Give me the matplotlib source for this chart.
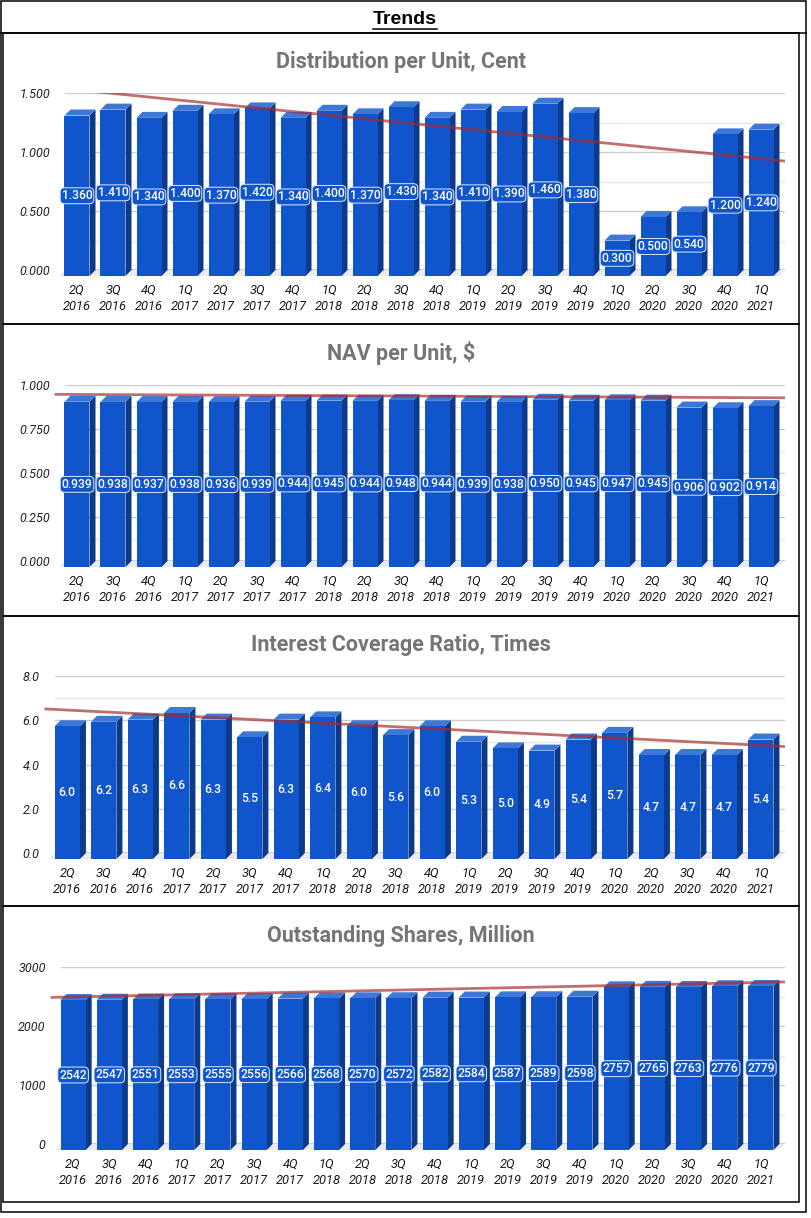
import numpy as np
import matplotlib.pyplot as plt
from matplotlib.patches import Polygon, Rectangle
from matplotlib.ticker import MultipleLocator, FormatStrFormatter

W, H = 812, 1218

quarters = ['2Q', '3Q', '4Q', '1Q', '2Q', '3Q', '4Q', '1Q', '2Q', '3Q',
            '4Q', '1Q', '2Q', '3Q', '4Q', '1Q', '2Q', '3Q', '4Q', '1Q']
years = ['2016', '2016', '2016', '2017', '2017', '2017', '2017', '2018', '2018', '2018',
         '2018', '2019', '2019', '2019', '2019', '2020', '2020', '2020', '2020', '2021']

dpu = [1.360, 1.410, 1.340, 1.400, 1.370, 1.420, 1.340, 1.400, 1.370, 1.430,
       1.340, 1.410, 1.390, 1.460, 1.380, 0.300, 0.500, 0.540, 1.200, 1.240]
nav = [0.939, 0.938, 0.937, 0.938, 0.936, 0.939, 0.944, 0.945, 0.944, 0.948,
       0.944, 0.939, 0.938, 0.950, 0.945, 0.947, 0.945, 0.906, 0.902, 0.914]
icr = [6.0, 6.2, 6.3, 6.6, 6.3, 5.5, 6.3, 6.4, 6.0, 5.6,
       6.0, 5.3, 5.0, 4.9, 5.4, 5.7, 4.7, 4.7, 4.7, 5.4]
shares = [2542, 2547, 2551, 2553, 2555, 2556, 2566, 2568, 2570, 2572,
          2582, 2584, 2587, 2589, 2598, 2757, 2765, 2763, 2776, 2779]

titles = ['Distribution per Unit, Cent', 'NAV per Unit, $',
          'Interest Coverage Ratio, Times', 'Outstanding Shares, Million']

BLUE = '#1155cc'
SIDE = '#0b3a8a'
TOP = '#3d78d8'
TREND = '#a52a2a'

plt.rcParams['font.family'] = ['Roboto', 'DejaVu Sans']

# plot area in pixels: left, top, right, bottom ; title y
panels = [
    dict(values=dpu, ymax=1.5, major=0.5, minor=0.25, fmt='%.3f', lab='{:.3f}', box=True,
         area=(65, 93, 785, 270), title_y=62),
    dict(values=nav, ymax=1.0, major=0.25, minor=0.125, fmt='%.3f', lab='{:.3f}', box=True,
         area=(65, 385, 785, 561), title_y=353),
    dict(values=icr, ymax=8.0, major=2.0, minor=1.0, fmt='%.1f', lab='{:.1f}', box=False,
         area=(55, 676, 785, 853), title_y=645),
    dict(values=shares, ymax=3000, major=1000, minor=500, fmt='%d', lab='{:d}', box=True,
         area=(61, 967, 785, 1144), title_y=936),
]
panel_edges = [33, 324, 616, 906, 1202]


def draw_panel(fig, p, title):
    left, top, right, bottom = p['area']
    ax = fig.add_axes([left / W, 1 - bottom / H, (right - left) / W, (bottom - top) / H])
    ax.set_facecolor('none')
    vals = np.array(p['values'])
    n = len(vals)
    idx = np.arange(n)
    ax.set_xlim(-0.5, n - 0.5)
    ax.set_ylim(0, p['ymax'])

    slot = (right - left) / n
    depth = 6
    dx = depth / slot
    dy = depth / (bottom - top) * p['ymax']
    w = 25 / 36

    for s in ax.spines.values():
        s.set_visible(False)
    ax.yaxis.set_major_locator(MultipleLocator(p['major']))
    ax.yaxis.set_minor_locator(MultipleLocator(p['minor']))
    ax.yaxis.set_major_formatter(FormatStrFormatter(p['fmt']))
    ax.grid(True, which='major', axis='y', color='#cccccc', lw=1)
    ax.grid(True, which='minor', axis='y', color='#e8e8e8', lw=1)
    ax.set_axisbelow(True)
    ax.tick_params(axis='y', which='both', length=0, pad=11, labelsize=9, labelcolor='#222222')
    for t in ax.get_yticklabels():
        t.set_fontstyle('italic')

    ax.set_xticks(idx - dx)
    ax.set_xticklabels([f'{q}\n{y}' for q, y in zip(quarters, years)],
                       fontstyle='italic', fontsize=9.3, color='#1a1a1a', linespacing=1.35)
    ax.tick_params(axis='x', length=0, pad=10)

    # floor of the 3D box
    floor = Polygon([(-0.5, 0), (n - 0.5, 0), (n - 0.5 - dx, -dy), (-0.5 - dx, -dy)],
                    closed=True, fc='#ebebeb', ec='none', zorder=1, clip_on=False)
    ax.add_patch(floor)
    ax.axhline(0, color='#333333', lw=1, zorder=1.5)

    bars = ax.bar(idx - dx, vals, width=w, bottom=-dy, color=BLUE, zorder=3)
    for b in bars:
        b.set_clip_on(False)
    for i, v in zip(idx, vals):
        x0 = i - w / 2
        side = Polygon([(x0 + w - dx, -dy), (x0 + w, 0), (x0 + w, v), (x0 + w - dx, v - dy)],
                       closed=True, fc=SIDE, ec='none', zorder=2.9, clip_on=False)
        topf = Polygon([(x0 - dx, v - dy), (x0 + w - dx, v - dy), (x0 + w, v), (x0, v)],
                       closed=True, fc=TOP, ec='none', zorder=2.9, clip_on=False)
        ax.add_patch(side)
        ax.add_patch(topf)

        txt = p['lab'].format(int(v) if p['fmt'] == '%d' else v)
        kw = {}
        if p['box']:
            kw['bbox'] = dict(boxstyle='round,pad=0.12,rounding_size=0.35',
                              fc=BLUE, ec='#dce6fa', lw=0.7)
        ax.text(i - dx, v / 2 - dy, txt, ha='center', va='center', color='white',
                fontsize=8.7, fontweight='medium', zorder=5, **kw)

    # linear trendline
    coef = np.polyfit(idx, vals, 1)
    xt = np.array([-0.75, n - 0.5])
    line, = ax.plot(xt, np.polyval(coef, xt), color=TREND, lw=2.0, alpha=0.68, zorder=4)
    clip = Rectangle((-0.05, -0.1), 1.05, 1.1, transform=ax.transAxes)
    line.set_clip_path(clip)

    fig.text(401 / W, 1 - p['title_y'] / H, title, ha='center', va='center',
             fontsize=15.5, fontweight='bold', color='#757575')
    return ax


def main():
    fig = plt.figure(figsize=(W / 100, H / 100), dpi=100)
    bg = fig.add_axes([0, 0, 1, 1])
    bg.set_xlim(0, W)
    bg.set_ylim(H, 0)
    bg.axis('off')

    # outer frame and panels
    bg.add_patch(Rectangle((1, 1), 805, 1211, fill=False, ec='black', lw=1.1))
    bg.plot([1, 806], [32.5, 32.5], color='black', lw=1.1)
    for t, b in zip(panel_edges[:-1], panel_edges[1:]):
        bg.add_patch(Rectangle((3, t), 796, b - t, fill=False, ec='black', lw=1.1))

    head = fig.text(405 / W, 1 - 19 / H, 'Trends', ha='center', va='center',
                    fontsize=14, fontweight='bold', family='Liberation Sans', color='black')
    fig.canvas.draw()
    bb = head.get_window_extent()
    bg.plot([bb.x0, bb.x1], [H - bb.y0 + 1, H - bb.y0 + 1], color='black', lw=1.1)

    for p, title in zip(panels, titles):
        draw_panel(fig, p, title)

    fig.savefig('out.png', dpi=100)


if __name__ == '__main__':
    main()
